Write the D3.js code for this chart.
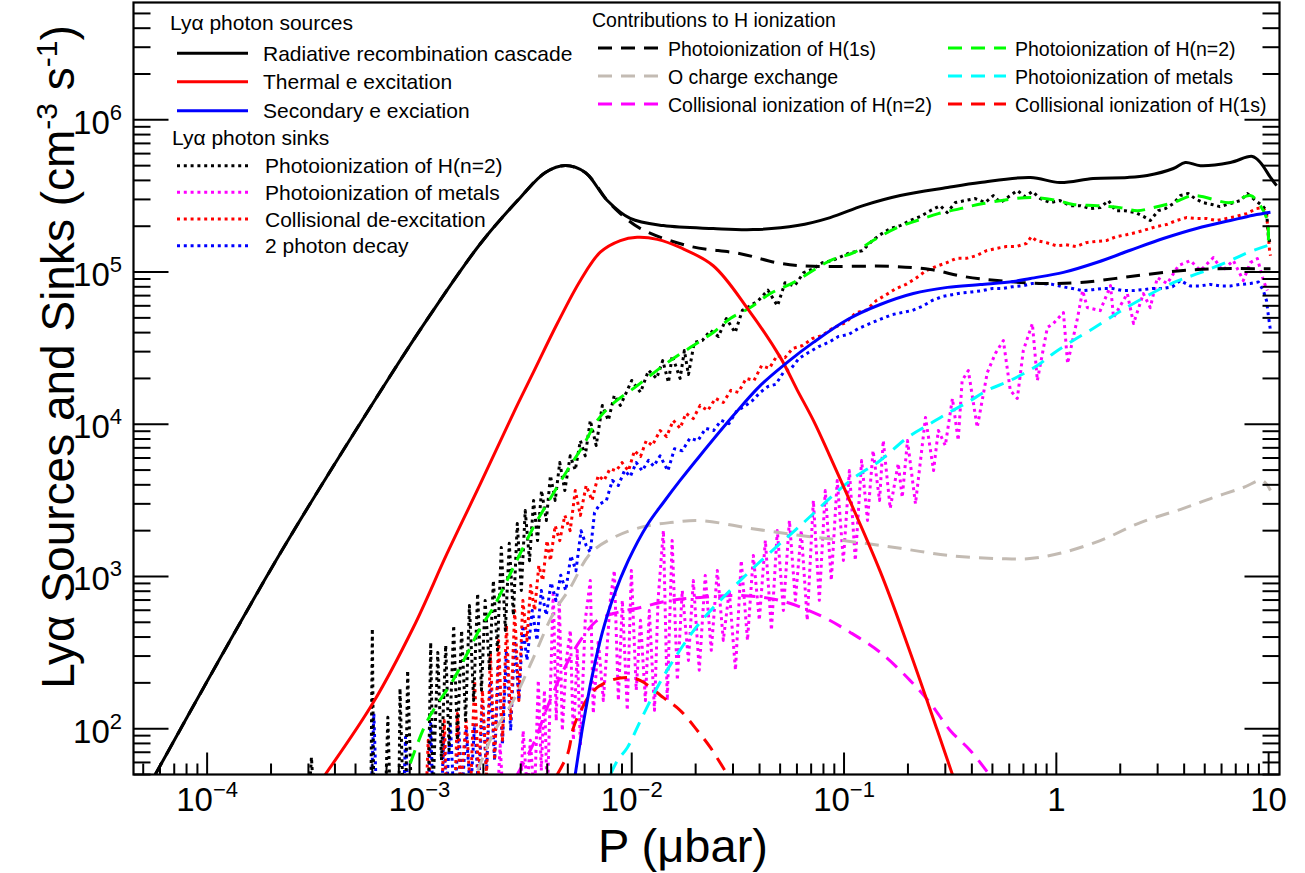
<!DOCTYPE html>
<html><head><meta charset="utf-8">
<script src="https://cdn.jsdelivr.net/npm/d3@7"></script>
<style>body{margin:0;background:#fff} text{font-family:"Liberation Sans",Arial,Helvetica,sans-serif;fill:#000}</style>
</head><body><svg id="c" width="1305" height="873"></svg>
<script>
// ---------- data: [P (microbar), rate (cm^-3 s^-1)] ----------
const radRecomb = [[5.7e-5,50],[2.21e-4,1419],[7.06e-4,1.94e4],[1.12e-3,5.19e4],[1.94e-3,1.54e5],[2.99e-3,3.09e5],[3.92e-3,4.51e5],[4.87e-3,5.01e5],[6.04e-3,4.51e5],[7.67e-3,2.95e5],[9.84e-3,2.25e5],[1.41e-2,2.02e5],[2.42e-2,1.93e5],[3.74e-2,1.90e5],[6.03e-2,2.02e5],[8.61e-2,2.28e5],[0.123,2.73e5],[0.184,3.18e5],[0.307,3.59e5],[0.438,3.87e5],[0.755,4.18e5],[1.04,3.87e5],[1.49,4.12e5],[2.16,4.18e5],[2.68,4.31e5],[3.56,4.79e5],[4.05,5.25e5],[4.77,5.0e5],[6.60,5.25e5],[8.38,5.75e5],[9.14,5.25e5],[10.2,4.18e5],[10.9,3.70e5]];
const thermalExc = [[3.60e-4,50],[6.07e-4,149],[9.36e-4,462],[1.35e-3,1416],[1.94e-3,4083],[2.77e-3,1.18e4],[3.44e-3,2.19e4],[4.46e-3,4.59e4],[5.73e-3,8.81e4],[7.11e-3,1.35e5],[8.84e-3,1.61e5],[1.06e-2,1.69e5],[1.32e-2,1.64e5],[1.69e-2,1.45e5],[2.42e-2,1.10e5],[3.54e-2,5.67e4],[5.01e-2,2.75e4],[6.03e-2,1.67e4],[7.17e-2,1.06e4],[8.34e-2,6730],[0.148,1080],[0.205,317],[0.275,97.5],[0.324,50]];
const secondaryExc = [[5.42e-3,50],[5.91e-3,108],[6.52e-3,224],[7.27e-3,429],[8.18e-3,728],[9.64e-3,1274],[1.18e-2,2163],[1.41e-2,3062],[1.69e-2,4276],[2.10e-2,6237],[3.01e-2,1.14e4],[4.04e-2,1.80e4],[5.40e-2,2.55e4],[7.17e-2,3.45e4],[0.104,4.88e4],[0.148,6.12e4],[0.212,7.23e4],[0.307,7.93e4],[0.438,8.28e4],[0.627,8.67e4],[0.755,9.08e4],[1.08,9.95e4],[1.56,1.16e5],[2.23,1.39e5],[3.19,1.66e5],[4.62,1.94e5],[6.60,2.18e5],[8.47,2.36e5],[10.2,2.47e5]];
const piH1s = [[5.7e-5,50],[2.21e-4,1419],[7.06e-4,1.94e4],[1.12e-3,5.19e4],[1.94e-3,1.54e5],[2.99e-3,3.09e5],[3.92e-3,4.51e5],[4.87e-3,5.01e5],[6.04e-3,4.51e5],[7.67e-3,2.95e5],[8.84e-3,2.42e5],[1.10e-2,1.93e5],[1.83e-2,1.49e5],[3.25e-2,1.32e5],[5.01e-2,1.14e5],[7.17e-2,1.09e5],[0.165,1.09e5],[0.255,1.04e5],[0.365,9.35e4],[0.527,8.80e4],[0.841,8.41e4],[1.30,8.53e4],[2.23,9.35e4],[3.84,1.02e5],[5.49,1.05e5],[10.2,1.05e5]];
const chargeExO = [[1.88e-3,53],[2.23e-3,93],[2.77e-3,153],[3.45e-3,294],[4.27e-3,571],[5.14e-3,846],[6.38e-3,1416],[8.2e-3,1800],[1.10e-2,2100],[1.52e-2,2260],[2.10e-2,2330],[3.62e-2,2070],[6.23e-2,1860],[0.107,1700],[0.184,1530],[0.317,1370],[0.545,1310],[0.75,1310],[1.04,1420],[1.61,1720],[2.49,2260],[3.97,2800],[5.49,3300],[7.60,3840],[9.34,4270],[10.2,3670]];
const collIonN2 = [[2.89e-3,50],[3.45e-3,80],[4.0e-3,138],[4.76e-3,241],[5.73e-3,380],[6.88e-3,515],[8.2e-3,571],[1.10e-2,626],[1.52e-2,695],[2.10e-2,728],[3.25e-2,750],[5.0e-2,695],[7.7e-2,555],[0.107,429],[0.148,317],[0.205,207],[0.255,147],[0.317,97],[0.393,72],[0.478,51]];
const collIon1s = [[4.46e-3,50],[5.0e-3,68.8],[5.32e-3,102],[5.86e-3,138],[6.6e-3,178],[7.94e-3,207],[9.55e-3,217],[1.10e-2,207],[1.41e-2,160],[1.69e-2,132],[2.04e-2,97],[2.35e-2,75],[2.82e-2,50]];
const piN2 = [[9.06e-4,59.2],[1.09e-3,113],[1.44e-3,208],[1.68e-3,312],[1.94e-3,462],[2.23e-3,626],[2.77e-3,1146],[3.44e-3,2098],[4.00e-3,3016],[4.97e-3,4970],[5.91e-3,7260],[6.89e-3,1.06e4],[8.18e-3,1.37e4],[1.02e-2,1.72e4],[1.26e-2,2.16e4],[1.52e-2,2.62e4],[1.89e-2,3.20e4],[2.42e-2,4.01e4],[2.91e-2,4.95e4],[3.62e-2,5.85e4],[4.50e-2,7.23e4],[5.77e-2,8.53e4],[8.61e-2,1.19e5],[0.111,1.34e5],[0.137,1.61e5],[0.178,1.96e5],[0.221,2.18e5],[0.278,2.42e5],[0.353,2.61e5],[0.453,2.82e5],[0.755,3.09e5],[1.01,2.95e5],[1.20,2.78e5],[1.56,2.73e5],[2.00,2.65e5],[2.41,2.53e5],[2.86,2.65e5],[3.56,2.86e5],[4.42,3.18e5],[6.60,2.86e5],[8.20,3.18e5],[9.14,2.73e5],[9.86,2.18e5],[9.97,1.61e5]];
const piMetals = [[7.94e-3,50],[8.58e-3,62],[9.53e-3,75],[1.10e-2,113],[1.32e-2,187],[1.57e-2,281],[2.10e-2,499],[3.62e-2,1090],[6.23e-2,2160],[0.107,4270],[0.148,5780],[0.199,8180],[0.255,1.01e4],[0.307,1.18e4],[0.381,1.39e4],[0.473,1.67e4],[0.607,1.94e4],[0.814,2.43e4],[0.968,2.92e4],[1.20,3.55e4],[1.49,4.26e4],[1.86,5.18e4],[2.31,6.22e4],[3.56,8.53e4],[4.77,9.9e4],[6.60,1.19e5],[7.94,1.34e5],[9.86,1.49e5]];

const sinkPiN2 = [[3.0e-4,30],[3.1e-4,65],[3.2e-4,30],[5.9e-4,30],[6.0e-4,455],[6.1e-4,30],[6.9e-4,30],[7.1e-4,119],[7.3e-4,30],[8.0e-4,30],[8.1e-4,184],[8.4e-4,30],[8.6e-4,30],[8.8e-4,241],[9.2e-4,30],[1.10e-3,30],[1.13e-3,369],[1.16e-3,39],[1.22e-3,317],[1.27e-3,62],[1.33e-3,353],[1.38e-3,72],[1.45e-3,477],[1.51e-3,84],[1.58e-3,442],[1.65e-3,113],[1.72e-3,645],[1.80e-3,153],[1.88e-3,774],[1.96e-3,179],[2.04e-3,695],[2.14e-3,241],[2.23e-3,941],[2.33e-3,327],[2.43e-3,1550],[2.54e-3,442],[2.65e-3,1650],[2.77e-3,556],[2.89e-3,2230],[3.02e-3,809],[3.15e-3,2710],[3.30e-3,1270],[3.45e-3,3160],[3.60e-3,1720],[3.76e-3,3670],[3.96e-3,2330],[4.14e-3,4600],[4.36e-3,3160],[4.58e-3,5600],[4.84e-3,3670],[5.13e-3,6200],[5.42e-3,5000],[5.73e-3,7800],[6.04e-3,6200],[6.38e-3,1.06e4],[6.8e-3,7250],[7.27e-3,1.33e4],[7.76e-3,1.06e4],[8.28e-3,1.55e4],[8.84e-3,1.33e4],[9.44e-3,1.62e4],[1.0e-2,1.94e4],[1.10e-2,1.62e4],[1.20e-2,2.26e4],[1.31e-2,2.0e4],[1.40e-2,2.62e4],[1.49e-2,1.88e4],[1.55e-2,2.83e4],[1.69e-2,2.0e4],[1.77e-2,3.05e4],[1.85e-2,2.12e4],[1.97e-2,3.45e4],[2.15e-2,3.55e4],[2.35e-2,4.13e4],[2.56e-2,3.77e4],[2.79e-2,4.95e4],[3.07e-2,4.0e4],[3.32e-2,5.6e4],[3.57e-2,5.94e4],[3.95e-2,6.5e4],[4.38e-2,7.6e4],[4.86e-2,6.0e4],[5.27e-2,8.5e4],[5.84e-2,8.1e4],[6.45e-2,9.9e4],[7.15e-2,1.05e5],[7.9e-2,1.15e5],[8.8e-2,1.19e5],[0.107,1.34e5],[0.122,1.38e5],[0.136,1.61e5],[0.148,1.76e5],[0.165,1.93e5],[0.184,2.02e5],[0.205,2.18e5],[0.229,2.32e5],[0.255,2.53e5],[0.284,2.73e5],[0.306,2.46e5],[0.334,2.86e5],[0.372,2.95e5],[0.415,3.04e5],[0.463,2.86e5],[0.505,3.18e5],[0.545,2.86e5],[0.607,3.18e5],[0.655,3.43e5],[0.714,3.13e5],[0.77,3.38e5],[0.84,3.04e5],[0.937,2.86e5],[1.04,2.95e5],[1.16,2.73e5],[1.30,2.73e5],[1.45,2.61e5],[1.61,2.65e5],[1.76,2.95e5],[1.90,2.53e5],[2.11,2.53e5],[2.36,2.46e5],[2.57,2.32e5],[2.77,2.18e5],[3.02,2.53e5],[3.26,2.61e5],[3.56,2.82e5],[3.84,3.18e5],[4.18,3.28e5],[4.50,3.04e5],[4.90,2.86e5],[5.41,2.78e5],[5.89,2.69e5],[6.60,2.82e5],[7.37,2.95e5],[7.94,3.28e5],[8.67,2.95e5],[9.34,2.73e5],[9.77,2.53e5],[9.97,1.74e5],[10.2,1.49e5]];
const sinkPiMetals = [[2.33e-3,34],[2.40e-3,78],[2.48e-3,34],[2.99e-3,34],[3.08e-3,97],[3.22e-3,39],[3.33e-3,84],[3.48e-3,34],[3.63e-3,208],[3.75e-3,53],[3.88e-3,179],[4.00e-3,34],[4.27e-3,809],[4.41e-3,113],[4.56e-3,697],[4.71e-3,97],[4.92e-3,281],[5.14e-3,443],[5.31e-3,84],[5.54e-3,327],[5.73e-3,78],[6.04e-3,515],[6.38e-3,942],[6.59e-3,126],[6.96e-3,380],[7.35e-3,153],[7.93e-3,697],[8.28e-3,1096],[8.65e-3,153],[9.03e-3,697],[9.53e-3,132],[9.96e-3,1096],[1.05e-2,179],[1.10e-2,515],[1.16e-2,153],[1.21e-2,598],[1.28e-2,132],[1.33e-2,697],[1.41e-2,2006],[1.47e-2,153],[1.55e-2,1726],[1.64e-2,208],[1.73e-2,809],[1.85e-2,281],[1.95e-2,942],[2.08e-2,242],[2.22e-2,1016],[2.37e-2,327],[2.53e-2,1096],[2.70e-2,380],[2.88e-2,809],[3.08e-2,242],[3.28e-2,1274],[3.51e-2,380],[3.74e-2,1375],[3.99e-2,515],[4.26e-2,1726],[4.55e-2,443],[4.85e-2,2006],[5.18e-2,598],[5.53e-2,2334],[5.90e-2,697],[6.29e-2,2006],[6.71e-2,515],[7.17e-2,3158],[7.65e-2,697],[8.16e-2,3672],[8.71e-2,942],[9.29e-2,4272],[9.93e-2,1274],[0.106,4970],[0.113,1274],[0.121,5780],[0.129,2334],[0.137,6727],[0.147,3158],[0.153,7826],[0.165,2798],[0.180,5526],[0.188,3304],[0.199,7826],[0.217,3000],[0.242,1.109e4],[0.264,4970],[0.278,9103],[0.300,7256],[0.324,1.477e4],[0.345,7826],[0.360,1.938e4],[0.385,2.254e4],[0.424,9531],[0.473,2.187e4],[0.516,2.915e4],[0.563,3.551e4],[0.607,1.667e4],[0.655,1.477e4],[0.699,3.053e4],[0.771,4.59e4],[0.814,1.938e4],[0.907,4.322e4],[0.968,4.59e4],[1.08,5.42e4],[1.13,2.506e4],[1.26,5.03e4],[1.33,7.56e4],[1.40,5.84e4],[1.61,5.58e4],[1.80,8.15e4],[1.86,5.03e4],[2.16,7.22e4],[2.31,4.59e4],[2.57,7.22e4],[2.77,5.84e4],[2.99,9.20e4],[3.33,8.40e4],[3.76,1.103e5],[4.28,1.189e5],[4.77,1.023e5],[5.49,1.245e5],[6.06,1.023e5],[6.82,1.189e5],[7.60,8.79e4],[8.20,1.154e5],[8.85,1.227e5],[9.45,8.79e4],[9.86,7.56e4]];
const sinkCollDeexc = [[1.07e-3,30],[1.10e-3,84],[1.14e-3,30],[1.27e-3,30],[1.31e-3,113],[1.35e-3,30],[1.46e-3,30],[1.51e-3,126],[1.56e-3,39],[1.66e-3,113],[1.74e-3,39],[1.82e-3,207],[1.90e-3,46],[1.98e-3,179],[2.07e-3,49.5],[2.16e-3,312],[2.26e-3,62],[2.36e-3,380],[2.46e-3,84],[2.57e-3,477],[2.69e-3,113],[2.81e-3,598],[2.94e-3,153],[3.07e-3,695],[3.21e-3,380],[3.34e-3,873],[3.49e-3,598],[3.65e-3,1180],[3.81e-3,940],[3.99e-3,1720],[4.14e-3,1270],[4.36e-3,2160],[4.58e-3,1720],[4.84e-3,2520],[5.13e-3,2000],[5.42e-3,3670],[5.73e-3,2520],[6.1e-3,3960],[6.5e-3,3160],[6.95e-3,4600],[7.4e-3,4270],[7.9e-3,5100],[8.45e-3,4940],[9.0e-3,5600],[9.65e-3,4940],[1.03e-2,6700],[1.10e-2,6140],[1.17e-2,7800],[1.25e-2,7250],[1.36e-2,9100],[1.46e-2,8300],[1.57e-2,1.06e4],[1.69e-2,9400],[1.80e-2,1.18e4],[1.95e-2,1.09e4],[2.1e-2,1.33e4],[2.28e-2,1.23e4],[2.48e-2,1.48e4],[2.70e-2,1.39e4],[2.93e-2,1.67e4],[3.18e-2,1.62e4],[3.46e-2,2.0e4],[3.77e-2,1.94e4],[4.09e-2,2.43e4],[4.45e-2,2.33e4],[4.84e-2,2.83e4],[5.27e-2,2.74e4],[5.73e-2,3.15e4],[6.38e-2,3.29e4],[7.1e-2,3.66e4],[7.9e-2,3.83e4],[8.8e-2,4.26e4],[0.102,4.66e4],[0.114,5.42e4],[0.127,5.6e4],[0.142,6.5e4],[0.158,7.1e4],[0.176,7.8e4],[0.196,8.3e4],[0.218,9.1e4],[0.243,1.02e5],[0.272,1.09e5],[0.303,1.15e5],[0.338,1.23e5],[0.377,1.23e5],[0.42,1.28e5],[0.468,1.38e5],[0.522,1.43e5],[0.58,1.47e5],[0.648,1.47e5],[0.722,1.54e5],[0.763,1.71e5],[0.805,1.61e5],[0.897,1.56e5],[1.0,1.49e5],[1.11,1.51e5],[1.24,1.47e5],[1.38,1.56e5],[1.54,1.59e5],[1.72,1.61e5],[1.92,1.71e5],[2.14,1.76e5],[2.38,1.82e5],[2.65,1.9e5],[2.96,1.99e5],[3.30,2.05e5],[3.68,2.18e5],[4.1,2.28e5],[4.57,2.25e5],[5.09,2.25e5],[5.67,2.18e5],[6.33,2.25e5],[7.05,2.32e5],[7.86,2.42e5],[8.76,2.61e5],[9.34,2.65e5],[9.77,2.47e5],[10.1,1.38e5],[10.2,1.28e5]];
const sink2Photon = [[5.9e-4,30],[6.1e-4,126],[6.3e-4,30],[8.4e-4,30],[8.6e-4,88],[8.9e-4,30],[1.10e-3,30],[1.13e-3,108],[1.16e-3,30],[1.27e-3,30],[1.30e-3,90],[1.34e-3,39],[1.40e-3,105],[1.46e-3,30],[1.53e-3,102],[1.59e-3,39],[1.66e-3,100],[1.74e-3,37],[1.82e-3,108],[1.90e-3,39],[1.98e-3,153],[2.07e-3,53],[2.16e-3,207],[2.26e-3,62],[2.36e-3,281],[2.46e-3,78],[2.57e-3,327],[2.69e-3,97],[2.81e-3,380],[2.94e-3,153],[3.07e-3,477],[3.21e-3,281],[3.40e-3,598],[3.58e-3,380],[3.75e-3,809],[3.96e-3,556],[4.17e-3,911],[4.40e-3,695],[4.63e-3,1020],[4.89e-3,809],[5.17e-3,1370],[5.46e-3,1090],[5.77e-3,2000],[6.1e-3,1600],[6.38e-3,1440],[6.68e-3,2630],[7.1e-3,3000],[7.6e-3,3160],[8.1e-3,4270],[8.65e-3,3960],[9.25e-3,4970],[9.85e-3,4530],[1.05e-2,5600],[1.12e-2,4940],[1.20e-2,5800],[1.27e-2,5300],[1.36e-2,6200],[1.48e-2,4940],[1.59e-2,6900],[1.73e-2,6700],[1.88e-2,8100],[2.05e-2,7800],[2.23e-2,9400],[2.43e-2,9100],[2.64e-2,1.06e4],[2.87e-2,1.01e4],[3.13e-2,1.23e4],[3.40e-2,1.31e4],[3.70e-2,1.43e4],[4.03e-2,1.62e4],[4.38e-2,1.77e4],[4.77e-2,1.83e4],[5.18e-2,2.19e4],[5.64e-2,2.33e4],[6.14e-2,2.71e4],[6.83e-2,2.97e4],[7.6e-2,3.24e4],[8.46e-2,3.45e4],[9.4e-2,3.77e4],[0.105,3.89e4],[0.117,4.26e4],[0.136,4.66e4],[0.151,4.95e4],[0.169,5.26e4],[0.188,5.42e4],[0.21,5.6e4],[0.233,5.94e4],[0.26,6.5e4],[0.29,6.9e4],[0.323,7.1e4],[0.36,7.3e4],[0.40,7.4e4],[0.449,7.55e4],[0.50,7.8e4],[0.557,7.8e4],[0.62,8.0e4],[0.69,8.1e4],[0.77,8.4e4],[0.858,8.4e4],[0.957,8.3e4],[1.07,8.0e4],[1.19,7.8e4],[1.33,7.55e4],[1.48,7.65e4],[1.65,7.8e4],[1.84,7.8e4],[2.05,7.55e4],[2.28,7.55e4],[2.54,7.65e4],[2.83,7.8e4],[3.16,7.8e4],[3.52,8.0e4],[3.84,8.8e4],[4.27,8.1e4],[4.77,8.1e4],[5.3,8.3e4],[5.9,8.1e4],[6.6,8.1e4],[7.37,8.3e4],[8.2,8.4e4],[8.95,8.6e4],[9.44,7.55e4],[9.77,6.5e4],[9.97,5.18e4],[10.2,4.13e4]];

const xMajor = [1e-4,1e-3,1e-2,1e-1,1,10];
const xMajorLabels = [["10","\u22124"],["10","\u22123"],["10","\u22122"],["10","\u22121"],["1",""],["10",""]];
const yMajor = [1e2,1e3,1e4,1e5,1e6];
const yMajorLabels = [["10","2"],["10","3"],["10","4"],["10","5"],["10","6"]];

// ---------- layout ----------
const svg = d3.select("#c");
const L=133.5, R=1279.5, T=2.5, B=774.5;
const x = d3.scaleLog().domain([4.5e-5,11.25]).range([L,R]);
const y = d3.scaleLog().domain([50,5.9e6]).range([B,T]);

svg.append("defs").append("clipPath").attr("id","clip")
  .append("rect").attr("x",L).attr("y",T).attr("width",R-L).attr("height",B-T);

const DOT="3,3.8", DASH="14,9";
const series = [
  {d:sinkPiMetals, c:"#ff00ff", s:DOT, smooth:false},
  {d:sink2Photon, c:"#0000ff", s:DOT, smooth:false},
  {d:sinkCollDeexc, c:"#ff0000", s:DOT, smooth:false},
  {d:sinkPiN2, c:"#000000", s:DOT, smooth:false},
  {d:chargeExO, c:"#c3bbb3", s:DASH, smooth:true},
  {d:collIonN2, c:"#ff00ff", s:DASH, smooth:true},
  {d:collIon1s, c:"#ff0000", s:DASH, smooth:true},
  {d:piMetals, c:"#00ffff", s:DASH, smooth:true},
  {d:piN2, c:"#00ff00", s:DASH, smooth:true},
  {d:piH1s, c:"#000000", s:DASH, smooth:true},
  {d:thermalExc, c:"#ff0000", s:null, smooth:true},
  {d:secondaryExc, c:"#0000ff", s:null, smooth:true},
  {d:radRecomb, c:"#000000", s:null, smooth:true}
];
const g = svg.append("g").attr("clip-path","url(#clip)");
series.forEach(se=>{
  const line = d3.line().x(p=>x(p[0])).y(p=>y(p[1]))
    .curve(se.smooth ? d3.curveCatmullRom.alpha(0.5) : d3.curveLinear);
  g.append("path").attr("d",line(se.d)).attr("fill","none")
    .attr("stroke",se.c).attr("stroke-width",3)
    .attr("stroke-dasharray",se.s).attr("stroke-linejoin","round");
});

// ---------- axes ----------
const ax = svg.append("g").attr("stroke","#000").attr("stroke-width",2);
const xMinor=[], yMinor=[];
for(let e=-5;e<=1;e++) for(let k=2;k<=9;k++){const v=k*Math.pow(10,e); if(v>4.5e-5 && v<11.25) xMinor.push(v);}
for(let e=1;e<=6;e++) for(let k=2;k<=9;k++){const v=k*Math.pow(10,e); if(v>=50 && v<5.9e6) yMinor.push(v);}
xMinor.forEach(v=>ax.append("line").attr("x1",x(v)).attr("x2",x(v)).attr("y1",B).attr("y2",B-11));
xMajor.forEach(v=>ax.append("line").attr("x1",x(v)).attr("x2",x(v)).attr("y1",B).attr("y2",B-22));
yMinor.forEach(v=>{
  ax.append("line").attr("x1",L).attr("x2",L+17).attr("y1",y(v)).attr("y2",y(v));
  ax.append("line").attr("x1",R).attr("x2",R-17).attr("y1",y(v)).attr("y2",y(v));
});
yMajor.forEach(v=>{
  ax.append("line").attr("x1",L).attr("x2",L+35).attr("y1",y(v)).attr("y2",y(v));
  ax.append("line").attr("x1",R).attr("x2",R-35).attr("y1",y(v)).attr("y2",y(v));
});
svg.append("rect").attr("x",L).attr("y",T).attr("width",R-L).attr("height",B-T)
  .attr("fill","none").attr("stroke","#000").attr("stroke-width",2.2);

// tick labels
xMajor.forEach((v,i)=>{
  const t=svg.append("text").attr("x",x(v)).attr("y",811).attr("text-anchor","middle").attr("font-size",33);
  t.append("tspan").text(xMajorLabels[i][0]);
  if(xMajorLabels[i][1]) t.append("tspan").attr("dy",-14).attr("font-size",22).text(xMajorLabels[i][1]);
});
yMajor.forEach((v,i)=>{
  const t=svg.append("text").attr("x",122).attr("y",y(v)+14).attr("text-anchor","end").attr("font-size",33);
  t.append("tspan").text(yMajorLabels[i][0]);
  t.append("tspan").attr("dy",-14).attr("font-size",22).text(yMajorLabels[i][1]);
});

// axis titles
svg.append("text").attr("x",683).attr("y",862).attr("text-anchor","middle").attr("font-size",47).text("P (\u03bcbar)");
const yt=svg.append("text").attr("transform","translate(74,357) rotate(-90)").attr("text-anchor","middle").attr("font-size",46);
yt.append("tspan").text("Ly\u03b1 Sources and Sinks (cm");
yt.append("tspan").attr("dy",-17).attr("font-size",30).text("-3");
yt.append("tspan").attr("dy",17).text(" s");
yt.append("tspan").attr("dy",-17).attr("font-size",30).text("-1");
yt.append("tspan").attr("dy",17).text(")");

// ---------- legends ----------
const lg=svg.append("g");
function entry(x0,x1,yy,col,dash,label,tx,fs){
  lg.append("line").attr("x1",x0).attr("x2",x1).attr("y1",yy).attr("y2",yy)
    .attr("stroke",col).attr("stroke-width",3).attr("stroke-dasharray",dash);
  lg.append("text").attr("x",tx).attr("y",yy+7.5).attr("font-size",fs).text(label);
}
lg.append("text").attr("x",170).attr("y",30).attr("font-size",21).text("Ly\u03b1 photon sources");
entry(177,248,53.3,"#000",null,"Radiative recombination cascade",263,21);
entry(177,248,81.7,"#ff0000",null,"Thermal e excitation",263,21);
entry(177,248,110.7,"#0000ff",null,"Secondary e exciation",263,21);
lg.append("text").attr("x",172).attr("y",145).attr("font-size",21).text("Ly\u03b1 photon sinks");
entry(177,250,165.7,"#000",DOT,"Photoionization of H(n=2)",265,21);
entry(177,250,192.3,"#ff00ff",DOT,"Photoionization of metals",265,21);
entry(177,250,219,"#ff0000",DOT,"Collisional de-excitation",265,21);
entry(177,250,245.7,"#0000ff",DOT,"2 photon decay",265,21);

lg.append("text").attr("x",592).attr("y",27).attr("font-size",19.5).text("Contributions to H ionization");
entry(598,658,48,"#000",DASH,"Photoionization of H(1s)",668,19.5);
entry(598,658,76,"#c3bbb3",DASH,"O charge exchange",668,19.5);
entry(598,658,104,"#ff00ff",DASH,"Collisional ionization of H(n=2)",668,19.5);
entry(948,1006,48,"#00ff00",DASH,"Photoionization of H(n=2)",1015,19.5);
entry(948,1006,76,"#00ffff",DASH,"Photoionization of metals",1015,19.5);
entry(948,1006,104,"#ff0000",DASH,"Collisional ionization of H(1s)",1015,19.5);
</script></body></html>
